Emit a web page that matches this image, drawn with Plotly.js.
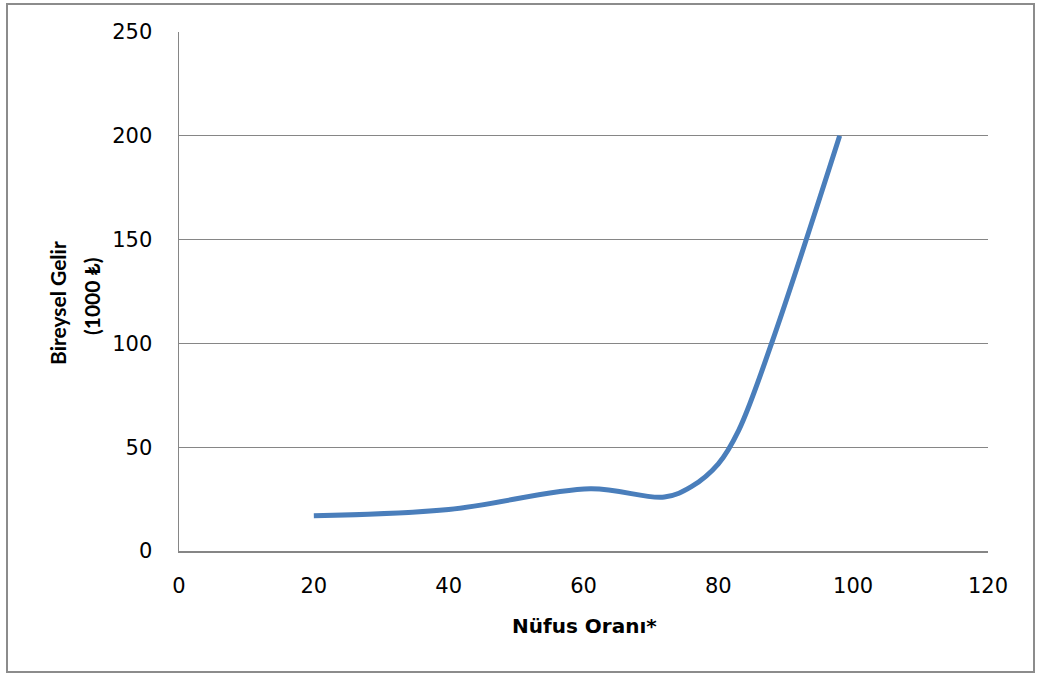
<!DOCTYPE html>
<html>
<head>
<meta charset="utf-8">
<script src="https://cdn.plot.ly/plotly-3.0.1.min.js"></script>
<style>
html,body{margin:0;padding:0;background:#fff;}
#frame{position:absolute;left:6px;top:3px;width:1029px;height:670px;border:2px solid #8c8c8c;box-sizing:border-box;pointer-events:none;}
#chart{position:absolute;left:0;top:0;width:1038px;height:677px;}
</style>
</head>
<body>
<div id="chart"></div>
<div id="frame"></div>
<script>
// Data
var nufusOrani = [20, 40, 61, 72, 76, 80, 83, 88, 98];
var bireyselGelir = [17, 20, 30, 26, 31, 42, 58, 101, 200];
var xTicks = [0, 20, 40, 60, 80, 100, 120];
var yTicks = [0, 50, 100, 150, 200, 250];
var xTitle = 'Nüfus Oranı*';
var yTitleLines = ['Bireysel Gelir', '(1000 ₺)'];

var wideFont = "'DejaVu Sans', sans-serif";
var narrowFont = "Lato, 'Open Sans', sans-serif";

var L = 179, R = 50, T = 32, B = 126;
var W = 1038, H = 677;
var pw = W - L - R, ph = H - T - B;
function px2x(p) { return (p - L) / pw; }
function py2y(p) { return (H - B - p) / ph; }

var trace = {
  x: nufusOrani,
  y: bireyselGelir,
  mode: 'lines',
  type: 'scatter',
  line: {color: '#4a7ebb', width: 5, shape: 'spline', smoothing: 1},
  showlegend: false,
  hoverinfo: 'x+y'
};

var annotations = [
  {text: '<b>' + xTitle + '</b>', xref: 'paper', yref: 'paper', x: px2x(584), y: py2y(626),
   xanchor: 'center', yanchor: 'middle', showarrow: false,
   font: {family: wideFont, size: 20, color: '#000'}},
  {text: '<b>' + yTitleLines[0] + '</b>', xref: 'paper', yref: 'paper', x: px2x(57), y: py2y(303),
   xanchor: 'center', yanchor: 'middle', showarrow: false, textangle: -90,
   font: {family: narrowFont, size: 21, color: '#000'}},
  {text: '<b>' + yTitleLines[1] + '</b>', xref: 'paper', yref: 'paper', x: px2x(91), y: py2y(296),
   xanchor: 'center', yanchor: 'middle', showarrow: false, textangle: -90,
   font: {family: narrowFont, size: 21, color: '#000'}}
];

var layout = {
  width: W, height: H,
  margin: {l: L, r: R, t: T, b: B},
  paper_bgcolor: '#ffffff', plot_bgcolor: '#ffffff',
  font: {family: wideFont, size: 21, color: '#000'},
  xaxis: {
    range: [0, 120], tickvals: xTicks, ticktext: xTicks.map(String),
    showgrid: false, zeroline: false, showline: true, linecolor: '#868686', linewidth: 1.5,
    ticks: '', ticklen: 0, ticklabelstandoff: 15,
    tickfont: {family: wideFont, size: 21, color: '#000'}
  },
  yaxis: {
    range: [0, 250], tickvals: yTicks, ticktext: yTicks.map(String),
    showgrid: true, gridcolor: '#868686', gridwidth: 1.2, zeroline: false,
    showline: true, linecolor: '#868686', linewidth: 1.5,
    ticks: '', ticklabelstandoff: 21,
    tickfont: {family: wideFont, size: 21, color: '#000'}
  },
  annotations: annotations
};

Plotly.newPlot('chart', [trace], layout, {displayModeBar: false, staticPlot: true});
</script>
</body>
</html>
